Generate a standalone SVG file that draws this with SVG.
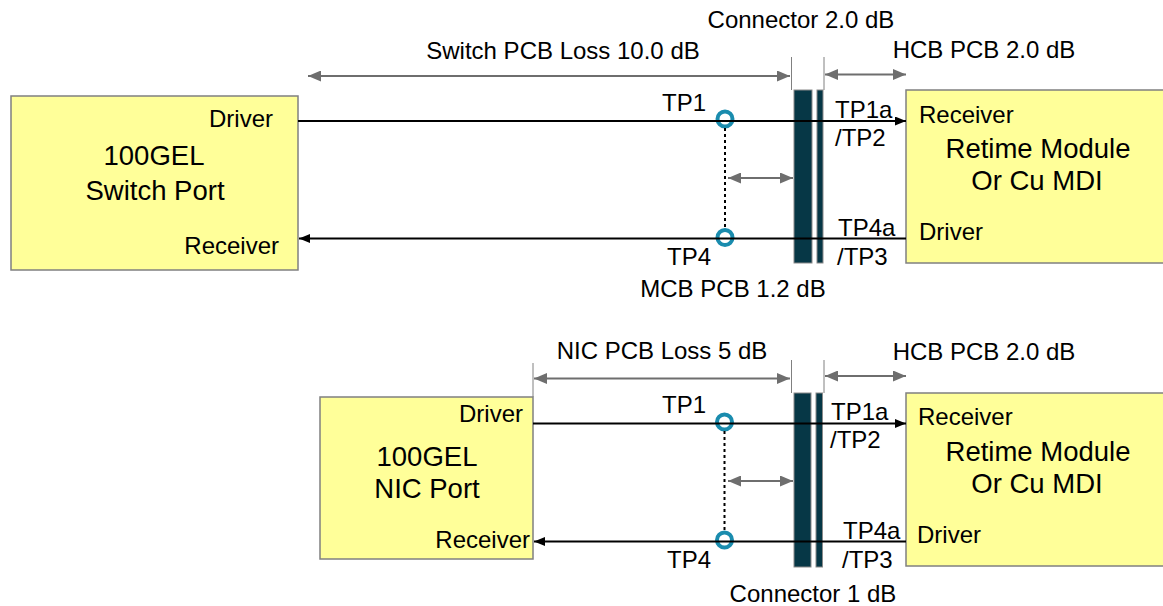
<svg xmlns="http://www.w3.org/2000/svg" width="1163" height="606" viewBox="0 0 1163 606">
<style>
  .box { fill: #FFFF99; stroke: #808080; stroke-width: 1.5; }
  .bar { fill: #063746; stroke: #8a8a8a; stroke-width: 1; }
  .sig { stroke: #000; stroke-width: 1.8; fill: none; }
  .dim { stroke: #6e6e6e; stroke-width: 2; fill: none; }
  .tick { stroke: #808080; stroke-width: 1; fill: none; }
  .dot { stroke: #000; stroke-width: 2; stroke-dasharray: 3 3; fill: none; }
  .tp { fill: none; stroke: #1a8cae; stroke-width: 4; }
  text { font-family: "Liberation Sans", Arial, sans-serif; fill: #000; }
  .lbl { font-size: 24px; }
  .big { font-size: 27.5px; }
  .mid { text-anchor: middle; }
  .end { text-anchor: end; }
</style>
<defs>
  <marker id="ab" markerUnits="userSpaceOnUse" markerWidth="11" markerHeight="9" refX="11" refY="4.5" orient="auto-start-reverse">
    <path d="M0,0 L11,4.5 L0,9 z" fill="#000"/>
  </marker>
  <marker id="ag" markerUnits="userSpaceOnUse" markerWidth="13" markerHeight="11" refX="13" refY="5.5" orient="auto-start-reverse">
    <path d="M0,0 L13,5.5 L0,11 z" fill="#6e6e6e"/>
  </marker>
</defs>

<!-- ===== Top diagram ===== -->
<g id="switch-port">
  <rect class="box" x="11" y="96" width="287" height="174"/>
  <text class="lbl end" x="273" y="127">Driver</text>
  <text class="big mid" x="154" y="165">100GEL</text>
  <text class="big mid" x="155" y="200">Switch Port</text>
  <text class="lbl end" x="279" y="254">Receiver</text>
</g>

<g id="retime-top">
  <rect class="box" x="906" y="90" width="270" height="173"/>
  <text class="lbl" x="919" y="123">Receiver</text>
  <text class="big mid" x="1038" y="158">Retime Module</text>
  <text class="big mid" x="1037" y="190">Or Cu MDI</text>
  <text class="lbl" x="919" y="240">Driver</text>
</g>

<g id="connector-top">
  <rect class="bar" x="794" y="90" width="18" height="173"/>
  <rect class="bar" x="817" y="90" width="6" height="173"/>
</g>

<g id="tp-top">
  <circle class="tp" cx="725" cy="119" r="7.5"/>
  <circle class="tp" cx="725" cy="237.5" r="7.5"/>
  <text class="lbl end" x="706" y="111">TP1</text>
  <text class="lbl end" x="711" y="265">TP4</text>
  <text class="lbl" x="835" y="118">TP1a</text>
  <text class="lbl" x="835" y="146">/TP2</text>
  <text class="lbl" x="838" y="236">TP4a</text>
  <text class="lbl" x="837" y="265">/TP3</text>
</g>

<g id="labels-top">
  <text class="lbl mid" x="801" y="28">Connector 2.0 dB</text>
  <text class="lbl mid" x="563" y="59">Switch PCB Loss 10.0 dB</text>
  <text class="lbl mid" x="984" y="58">HCB PCB 2.0 dB</text>
  <text class="lbl mid" x="733" y="297">MCB PCB 1.2 dB</text>
</g>

<!-- ===== Bottom diagram ===== -->
<g id="nic-port">
  <rect class="box" x="320" y="397" width="213" height="162"/>
  <text class="lbl end" x="523" y="422">Driver</text>
  <text class="big mid" x="427" y="466">100GEL</text>
  <text class="big mid" x="427" y="498">NIC Port</text>
  <text class="lbl end" x="530" y="548">Receiver</text>
</g>

<g id="retime-bottom">
  <rect class="box" x="906" y="393" width="270" height="173"/>
  <text class="lbl" x="918" y="425">Receiver</text>
  <text class="big mid" x="1038" y="461">Retime Module</text>
  <text class="big mid" x="1037" y="493">Or Cu MDI</text>
  <text class="lbl" x="917" y="543">Driver</text>
</g>

<g id="connector-bottom">
  <rect class="bar" x="794" y="393" width="17" height="174"/>
  <rect class="bar" x="816" y="393" width="6.5" height="174"/>
</g>

<g id="tp-bottom">
  <circle class="tp" cx="724.5" cy="422" r="7.5"/>
  <circle class="tp" cx="724.5" cy="540" r="7.5"/>
  <text class="lbl end" x="706" y="413">TP1</text>
  <text class="lbl end" x="711" y="568">TP4</text>
  <text class="lbl" x="831" y="420">TP1a</text>
  <text class="lbl" x="830" y="448">/TP2</text>
  <text class="lbl" x="843" y="539">TP4a</text>
  <text class="lbl" x="842" y="568">/TP3</text>
</g>

<g id="labels-bottom">
  <text class="lbl mid" x="662" y="359">NIC PCB Loss 5 dB</text>
  <text class="lbl mid" x="984" y="360">HCB PCB 2.0 dB</text>
  <text class="lbl mid" x="813" y="602">Connector 1 dB</text>
</g>

<!-- ===== Connectors ===== -->
<g id="connectors">
  <!-- top signal lines -->
  <line class="sig" x1="298" y1="121" x2="906" y2="121" marker-end="url(#ab)"/>
  <line class="sig" x1="906" y1="238.5" x2="299" y2="238.5" marker-end="url(#ab)"/>
  <line class="dot" x1="725" y1="128" x2="725" y2="230"/>
  <!-- top dimension arrows -->
  <line class="tick" x1="791.5" y1="57" x2="791.5" y2="90"/>
  <line class="tick" x1="824" y1="57" x2="824" y2="90"/>
  <line class="dim" x1="308" y1="76" x2="790" y2="76" marker-start="url(#ag)" marker-end="url(#ag)"/>
  <line class="dim" x1="825" y1="74.5" x2="906" y2="74.5" marker-start="url(#ag)" marker-end="url(#ag)"/>
  <line class="dim" x1="728" y1="178" x2="793" y2="178" marker-start="url(#ag)" marker-end="url(#ag)"/>

  <!-- bottom signal lines -->
  <line class="sig" x1="533" y1="423.5" x2="906" y2="423.5" marker-end="url(#ab)"/>
  <line class="sig" x1="906" y1="541.5" x2="534" y2="541.5" marker-end="url(#ab)"/>
  <line class="dot" x1="724.5" y1="431" x2="724.5" y2="532"/>
  <!-- bottom dimension arrows -->
  <line class="tick" x1="533" y1="363" x2="533" y2="397"/>
  <line class="tick" x1="791.5" y1="360" x2="791.5" y2="393"/>
  <line class="tick" x1="824" y1="360" x2="824" y2="393"/>
  <line class="dim" x1="534" y1="378.5" x2="790" y2="378.5" marker-start="url(#ag)" marker-end="url(#ag)"/>
  <line class="dim" x1="825" y1="376" x2="906" y2="376" marker-start="url(#ag)" marker-end="url(#ag)"/>
  <line class="dim" x1="728" y1="481" x2="793" y2="481" marker-start="url(#ag)" marker-end="url(#ag)"/>
</g>
</svg>
